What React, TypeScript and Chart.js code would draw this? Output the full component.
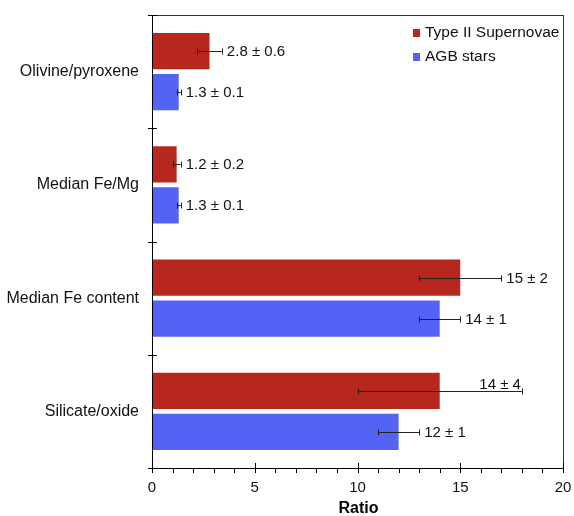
import React, { useEffect, useRef } from "react";
import { Chart, registerables } from "chart.js";

Chart.register(...registerables);

const categories = ["Olivine/pyroxene", "Median Fe/Mg", "Median Fe content", "Silicate/oxide"];
const seriesNames = ["Type II Supernovae", "AGB stars"];
const supernovaeValues = [2.8, 1.2, 15, 14];
const supernovaeErrors = [0.6, 0.2, 2, 4];
const agbValues = [1.3, 1.3, 14, 12];
const agbErrors = [0.1, 0.1, 1, 1];
const xTicks = [0, 5, 10, 15, 20];
const xTitle = "Ratio";

const RED = "#b8271d";
const BLUE = "#5364f5";
const FONT = "'Liberation Sans', Arial, Helvetica, sans-serif";

const errorBarPlugin = {
  id: "errorBars",
  afterDatasetsDraw(chart: any) {
    const ctx = chart.ctx;
    const xs = chart.scales.x;
    const errs = [supernovaeErrors, agbErrors];
    const vals = [supernovaeValues, agbValues];
    ctx.save();
    chart.data.datasets.forEach((ds: any, di: number) => {
      const meta = chart.getDatasetMeta(di);
      meta.data.forEach((bar: any, i: number) => {
        const v = vals[di][i];
        const e = errs[di][i];
        const x0 = xs.getPixelForValue(v - e);
        const x1 = xs.getPixelForValue(v + e);
        const y = Math.round(bar.y) + 0.5;
        ctx.strokeStyle = "#222";
        ctx.lineWidth = 1;
        ctx.beginPath();
        ctx.moveTo(x0, y);
        ctx.lineTo(x1, y);
        ctx.moveTo(Math.round(x0) + 0.5, y - 3);
        ctx.lineTo(Math.round(x0) + 0.5, y + 3);
        ctx.moveTo(Math.round(x1) + 0.5, y - 3);
        ctx.lineTo(Math.round(x1) + 0.5, y + 3);
        ctx.stroke();
        const label = `${v} ± ${e}`;
        ctx.fillStyle = "#111";
        ctx.font = `15px ${FONT}`;
        if (di === 0 && i === 3) {
          ctx.textAlign = "right";
          ctx.textBaseline = "alphabetic";
          ctx.fillText(label, x1 - 1, y - 3);
        } else {
          ctx.textAlign = "left";
          ctx.textBaseline = "middle";
          ctx.fillText(label, x1 + 5, y);
        }
      });
    });
    ctx.restore();
  },
};

const framePlugin = {
  id: "frame",
  afterDraw(chart: any) {
    const ctx = chart.ctx;
    const area = chart.chartArea;
    const l = Math.round(area.left);
    const r = Math.round(area.right);
    const t = Math.round(area.top);
    const b = Math.round(area.bottom);
    const xs = chart.scales.x;
    const ys = chart.scales.y;
    ctx.save();
    // box: top & right (dark grey), left & bottom (black)
    ctx.fillStyle = "#333";
    ctx.fillRect(l, t, r - l + 1, 1);
    ctx.fillRect(r, t, 1, b - t + 1);
    ctx.fillStyle = "#000";
    ctx.fillRect(l, t, 1, b - t + 1);
    ctx.fillRect(l, b, r - l + 1, 1);
    const n = categories.length;
    for (let k = 0; k <= n; k++) {
      const y = Math.round(area.top + ((area.bottom - area.top) * k) / n);
      ctx.fillRect(l - 4, y, 9, 1);
    }
    for (let v = xs.min; v <= xs.max; v += 1) {
      const x = Math.round(xs.getPixelForValue(v));
      if (v % 5 === 0) {
        ctx.fillRect(x, b - 5, 1, 10);
      } else {
        ctx.fillRect(x, b, 1, 5);
      }
    }

    // category labels
    ctx.fillStyle = "#111";
    ctx.font = `16px ${FONT}`;
    ctx.textAlign = "right";
    ctx.textBaseline = "middle";
    categories.forEach((c, i) => {
      ctx.fillText(c, area.left - 13, ys.getPixelForValue(i));
    });
    // x tick labels
    ctx.font = `15px ${FONT}`;
    ctx.textAlign = "center";
    xTicks.forEach((v) => {
      ctx.fillText(String(v), xs.getPixelForValue(v), area.bottom + 20);
    });
    // x title
    ctx.font = `bold 16px ${FONT}`;
    ctx.fillStyle = "#000";
    ctx.fillText(xTitle, (area.left + area.right) / 2 + 1, area.bottom + 41);

    // legend
    const items = [RED, BLUE];
    ctx.font = `15.5px ${FONT}`;
    ctx.textAlign = "left";
    items.forEach((c, i) => {
      const cy = 33 + i * 24;
      ctx.fillStyle = c;
      ctx.fillRect(413, cy - 4, 7, 8);
      ctx.fillStyle = "#111";
      ctx.fillText(seriesNames[i], 425, cy);
    });
    ctx.restore();
  },
};

export default function App() {
  const ref = useRef<HTMLCanvasElement>(null);
  useEffect(() => {
    document.body.style.margin = "0";
    const chart = new Chart(ref.current!, {
      type: "bar",
      data: {
        labels: categories,
        datasets: [
          {
            label: seriesNames[0],
            data: supernovaeValues,
            backgroundColor: RED,
            categoryPercentage: 0.726,
            barPercentage: 0.88,
          },
          {
            label: seriesNames[1],
            data: agbValues,
            backgroundColor: BLUE,
            categoryPercentage: 0.726,
            barPercentage: 0.88,
          },
        ],
      },
      options: {
        indexAxis: "y",
        animation: false,
        responsive: false,
        maintainAspectRatio: false,
        layout: { padding: { top: 15, right: 11, left: 152, bottom: 48 } },
        plugins: { legend: { display: false }, tooltip: { enabled: false } },
        scales: {
          x: { display: false, min: 0, max: 20 },
          y: { display: false, offset: true },
        },
      },
      plugins: [errorBarPlugin, framePlugin],
    });
    return () => chart.destroy();
  }, []);
  return <canvas ref={ref} width={574} height={516} style={{ display: "block" }} />;
}
